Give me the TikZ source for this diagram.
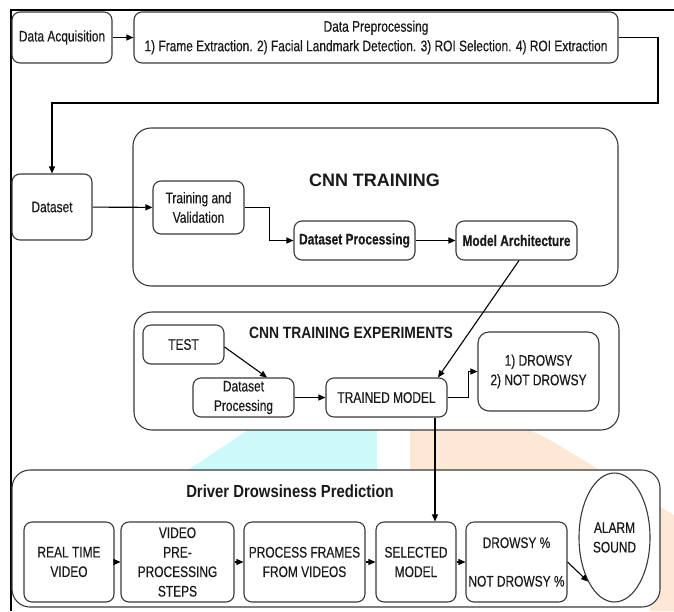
\documentclass[tikz,border=0pt]{standalone}
\usepackage{fontspec}
\setmainfont{Liberation Sans}[FakeStretch=0.78,FakeBold=0.4]
\newfontfamily\headfont{Liberation Sans}[FakeStretch=0.85]
\newfontfamily\plainfont{Liberation Sans}
\usetikzlibrary{arrows.meta,shapes.geometric}
\definecolor{linec}{HTML}{3A3A3A}
\definecolor{txt}{HTML}{1A1A1A}
\definecolor{wmcyan}{HTML}{CCFAFA}
\definecolor{wmorange}{HTML}{FDE8D6}
\begin{document}
\begin{tikzpicture}[x=1pt,y=-1pt,
  box/.style={draw=linec, line width=1.1pt, rounded corners=8pt, fill=white, align=center, inner sep=0pt, text=txt, font=\fontsize{15.3}{19.5}\selectfont},
  boldbox/.style={box, font=\bfseries\fontsize{15.3}{19.5}\selectfont},
  cont/.style={draw=linec, line width=1.1pt, rounded corners=18pt, fill=white, inner sep=0pt},
  title/.style={text=txt, inner sep=0pt, align=center},
  conn/.style={draw=black, line width=1.1pt},
  arr/.style={conn, -{Triangle[length=7pt,width=6pt]}},
]
\useasboundingbox (0,0) rectangle (674,611);
% background watermark
\fill[wmcyan] (248,430) -- (377,430) -- (377,472) -- (185,472) -- cycle;
\fill[wmorange] (410,430) -- (530,430) -- (550,440) -- (674,515) -- (674,611) -- (650,611) -- (650,472) -- (410,472) -- cycle;
% frame
\draw[line width=2pt, black] (11,611) -- (11,10) -- (674,10);
% containers
\node[cont, minimum width=485pt, minimum height=158pt] (cnn) at (375.5,207) {};
\node[cont, minimum width=485pt, minimum height=118pt] (exp) at (376.5,371) {};
\node[cont, minimum width=648pt, minimum height=137pt] (ddp) at (336,538.5) {};
\node[title, font=\plainfont\bfseries\fontsize{18}{20}\selectfont] (cnnt) at (374.5,180) {CNN TRAINING};
\node[title, font=\headfont\bfseries\fontsize{16.3}{18}\selectfont] (expt) at (351,333) {CNN TRAINING EXPERIMENTS};
\node[title, font=\headfont\bfseries\fontsize{17.5}{19}\selectfont] (ddpt) at (290,491) {Driver Drowsiness Prediction};
% top row
\node[box, minimum width=100pt, minimum height=51pt] (acq) at (62,37.5) {Data Acquisition};
\node[box, minimum width=484pt, minimum height=51pt] (pre) at (376,37.5) {Data Preprocessing\\1) Frame Extraction. 2) Facial Landmark Detection. 3) ROI Selection. 4) ROI Extraction};
\node[box, minimum width=80pt, minimum height=66pt] (dataset) at (52,207) {Dataset};
% CNN training
\node[box, minimum width=91pt, minimum height=53pt] (tv) at (198.5,207.5) {Training and\\Validation};
\node[boldbox, minimum width=121pt, minimum height=39pt] (dp) at (354.5,240.5) {Dataset Processing};
\node[boldbox, minimum width=121pt, minimum height=39pt] (ma) at (516.5,240.5) {Model Architecture};
% experiments
\node[box, minimum width=81pt, minimum height=39pt] (test) at (183.5,344.5) {TEST};
\node[box, minimum width=101pt, minimum height=39pt] (dp2) at (243.5,397.5) {Dataset\\Processing};
\node[box, minimum width=121pt, minimum height=39pt] (tm) at (386.5,397.5) {TRAINED MODEL};
\node[box, minimum width=121pt, minimum height=79pt, rounded corners=11pt] (dr) at (538.5,371.5) {1) DROWSY\\2) NOT DROWSY};
% prediction row
\node[box, minimum width=90pt, minimum height=80pt] (rtv) at (69,562) {REAL TIME\\VIDEO};
\node[box, minimum width=113pt, minimum height=80pt] (vpp) at (177.5,562) {VIDEO\\PRE-\\PROCESSING\\STEPS};
\node[box, minimum width=121pt, minimum height=80pt] (pfv) at (304.5,562) {PROCESS FRAMES\\FROM VIDEOS};
\node[box, minimum width=80pt, minimum height=80pt] (sm) at (416,562) {SELECTED\\MODEL};
\node[box, minimum width=101pt, minimum height=80pt] (dnd) at (516.5,562) {DROWSY \%\\[19pt]NOT DROWSY \%};
\node[box, ellipse, minimum width=71pt, minimum height=129pt] (alarm) at (614.5,537.5) {ALARM\\SOUND};
% connectors
\coordinate (c1) at (658,37.5);
\coordinate (c2) at (658,103);
\coordinate (c3) at (52,103);
\draw[arr] (acq) -- (pre);
\draw[arr] (pre.east) -- (c1) -- (c2) -- (c3) -- (dataset.north);
\draw[arr] (dataset) -- (tv);
\draw[arr] (tv.east) -- ++(25,0) |- (dp.west);
\draw[arr] (dp) -- (ma);
\draw[arr] ([xshift=2.5pt]ma.south) -- ([xshift=51.5pt]tm.north);
\draw[arr] ([yshift=-2.5pt]test.east) -- ([xshift=23.5pt]dp2.north);
\draw[arr] (dp2) -- (tm);
\draw[arr] (tm.east) -- ++(21,0) |- (dr.west);
\draw[arr] ([xshift=48.5pt]tm.south) -- ([xshift=48.5pt]tm.south |- sm.north);
\draw[arr] (rtv) -- (vpp);
\draw[arr] (vpp) -- (pfv);
\draw[arr] (pfv) -- (sm);
\draw[arr] (sm) -- (dnd);
\draw[arr] (dnd.east) -- (alarm.239);
\end{tikzpicture}
\end{document}
